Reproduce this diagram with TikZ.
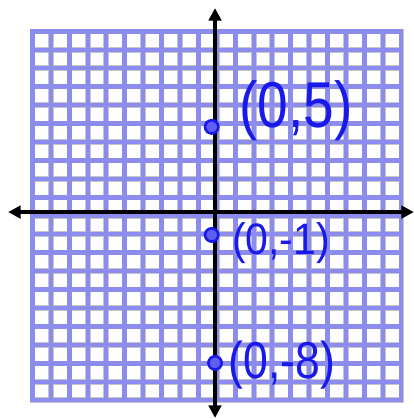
\documentclass[tikz,border=0pt]{standalone}
\usepackage{fontspec}
\setmainfont{Liberation Sans}
\usetikzlibrary{arrows.meta, positioning}
\definecolor{gridblue}{RGB}{140,140,238}
\definecolor{inkblue}{RGB}{25,25,235}

\begin{document}
\begin{tikzpicture}[
    gridline/.style={gridblue, line width=3.4pt, line cap=rect},
    gridshade/.style={gray!45, line width=4.3pt, line cap=rect},
    axis/.style={{Triangle[length=3.4mm,width=3.4mm]}-{Triangle[length=3.4mm,width=3.4mm]},
                 line width=3.4pt, black},
    dot/.style={circle, draw=inkblue, fill=inkblue!70, line width=2pt,
                inner sep=0pt, minimum size=3.6mm},
    lab/.style={inkblue, inner sep=0pt, transform shape},
  ]
  \useasboundingbox (-5.83,-5.61) rectangle (5.39,5.75);
  % graph paper
  \foreach \k in {0,...,20} {
    \draw[gridshade] (-4.95+\k*0.5,-5.1) -- ++(0,10);
    \draw[gridshade] (-4.95,-5.1+\k*0.5) -- ++(10,0);
  }
  \foreach \k in {0,...,20} {
    \draw[gridline] (-4.95+\k*0.5,-5.1) -- ++(0,10);
    \draw[gridline] (-4.95,-5.1+\k*0.5) -- ++(10,0);
  }
  % axes
  \coordinate (xleft) at (-5.61,0);
  \coordinate (xright) at (5.39,0);
  \coordinate (ybottom) at (0,-5.58);
  \coordinate (ytop) at (0,5.53);
  \draw[axis] (xleft) -- (xright);
  \draw[axis] (ybottom) -- (ytop);
  % points
  \node[dot] (pfive) at (-0.09,2.31) {};
  \node[dot] (pminusone) at (-0.09,-0.62) {};
  \node[dot] (pminuseight) at (0,-4.09) {};
  \node[lab, xscale=0.85, font=\fontsize{50}{50}\selectfont] (labfive) at (2.2,2.76) {(0,5)};
  \node[lab, xscale=0.93, font=\fontsize{34}{34}\selectfont] (labminusone) at (1.79,-0.84) {(0,-1)};
  \node[lab, xscale=0.86, font=\fontsize{40}{40}\selectfont] (labminuseight) at (1.82,-4.15) {(0,-8)};
\end{tikzpicture}
\end{document}
